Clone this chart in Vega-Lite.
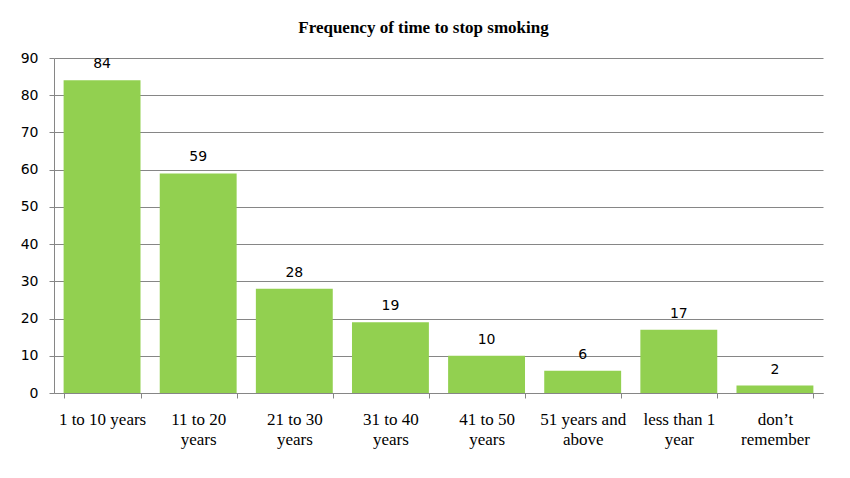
{
  "$schema": "https://vega.github.io/schema/vega-lite/v6.json",
  "autosize": {"type": "none"},
  "width": 769,
  "height": 335,
  "padding": {"left": 54, "top": 58, "right": 27, "bottom": 85},
  "background": "white",
  "title": {
    "text": "Frequency of time to stop smoking",
    "font": "Liberation Serif",
    "fontSize": 17,
    "fontWeight": "bold",
    "color": "black",
    "anchor": "middle",
    "dx": -15,
    "offset": 14
  },
  "data": {
    "values": [
      {"period": "1 to 10 years", "count": 84},
      {"period": "11 to 20 years", "count": 59},
      {"period": "21 to 30 years", "count": 28},
      {"period": "31 to 40 years", "count": 19},
      {"period": "41 to 50 years", "count": 10},
      {"period": "51 years and above", "count": 6},
      {"period": "less than 1 year", "count": 17},
      {"period": "don’t remember", "count": 2}
    ]
  },
  "encoding": {
    "x": {
      "field": "period",
      "type": "nominal",
      "sort": null,
      "scale": {"paddingInner": 0.2, "paddingOuter": 0.1},
      "axis": {
        "title": null,
        "labelAngle": 0,
        "tickBand": "extent",
        "tickSize": 5,
        "tickColor": "#868686",
        "domainColor": "#868686",
        "labelFont": "Liberation Serif",
        "labelFontSize": 17,
        "labelColor": "black",
        "labelPadding": 13,
        "labelLineHeight": 20,
        "labelBaseline": "top",
        "grid": false,
        "labelExpr": "datum.value == '11 to 20 years' ? ['11 to 20', 'years'] : datum.value == '21 to 30 years' ? ['21 to 30', 'years'] : datum.value == '31 to 40 years' ? ['31 to 40', 'years'] : datum.value == '41 to 50 years' ? ['41 to 50', 'years'] : datum.value == '51 years and above' ? ['51 years and', 'above'] : datum.value == 'less than 1 year' ? ['less than 1', 'year'] : datum.value == 'don’t remember' ? ['don’t', 'remember'] : datum.value"
      }
    },
    "y": {
      "field": "count",
      "type": "quantitative",
      "scale": {"domain": [0, 90]},
      "axis": {
        "title": null,
        "values": [0, 10, 20, 30, 40, 50, 60, 70, 80, 90],
        "grid": true,
        "gridColor": "#868686",
        "gridOpacity": 1,
        "tickColor": "#868686",
        "tickSize": 5,
        "domainColor": "#868686",
        "labelFont": "DejaVu Sans",
        "labelFontSize": 14,
        "labelColor": "black",
        "labelPadding": 11
      }
    }
  },
  "layer": [
    {"mark": {"type": "bar", "color": "#92D050"}},
    {
      "mark": {"type": "text", "baseline": "bottom", "dy": -9, "font": "DejaVu Sans", "fontSize": 14, "color": "black"},
      "encoding": {"text": {"field": "count", "type": "quantitative"}}
    }
  ],
  "config": {"view": {"stroke": null}}
}
